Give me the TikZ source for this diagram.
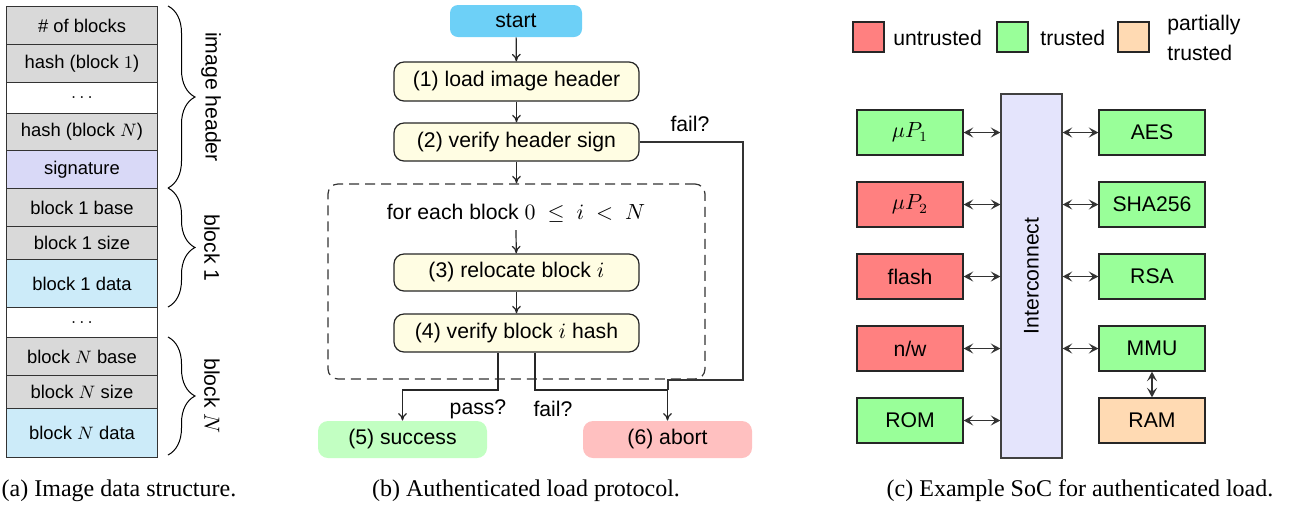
\documentclass[tikz,border=0pt]{standalone}
\usepackage[no-math]{fontspec}
\setmainfont{Liberation Serif}
\setsansfont{Liberation Sans}
\usetikzlibrary{arrows.meta,decorations.pathreplacing}
\definecolor{cgray}{HTML}{D9D9D9}
\definecolor{clav}{HTML}{D9D9F7}
\definecolor{cdata}{HTML}{CCEBF9}
\definecolor{cstart}{HTML}{6DD0F7}
\definecolor{cstep}{HTML}{FFFDE3}
\definecolor{cok}{HTML}{C2FFC2}
\definecolor{cbad}{HTML}{FFC0C0}
\definecolor{cred}{HTML}{FF8080}
\definecolor{cgreen}{HTML}{99FF99}
\definecolor{cpeach}{HTML}{FFDAB3}
\definecolor{cic}{HTML}{E4E4FC}
\begin{document}
\begin{tikzpicture}[x=0.5pt,y=-0.5pt,
  cell/.style={draw=black!80,line width=0.5pt,anchor=north west,minimum width=75.5pt,inner sep=0pt,
    font=\fontsize{9.2}{11}\selectfont\sffamily},
  bracepath/.style={decorate,decoration={brace,amplitude=13.5pt},line width=0.5pt},
  bracelabel/.style={rotate=-90,font=\fontsize{10.6}{12}\selectfont\sffamily},
  stepbox/.style={draw=black!85,fill=cstep,rounded corners=5pt,line width=0.6pt,minimum width=122.5pt,
    inner sep=0pt,font=\fontsize{10.6}{12}\selectfont\sffamily},
  endbox/.style={rounded corners=5pt,minimum width=84.5pt,minimum height=18.5pt,inner sep=0pt,
    font=\fontsize{10.6}{12}\selectfont\sffamily},
  lbl/.style={inner sep=0pt,font=\fontsize{10.6}{12}\selectfont\sffamily},
  arr/.style={-{To[length=3.8pt,width=4.4pt]},line width=0.6pt,black!85},
  ln/.style={line width=0.6pt,black!80},
  blk/.style={draw=black!85,line width=0.6pt,minimum width=53pt,minimum height=22.5pt,inner sep=0pt,
    font=\fontsize{10.6}{12}\selectfont\sffamily},
  leg/.style={draw=black!85,line width=0.6pt,minimum width=15.5pt,minimum height=15pt,inner sep=0pt},
  dbl/.style={{Stealth[length=4.8pt,width=5pt,inset=2pt]}-{Stealth[length=4.8pt,width=5pt,inset=2pt]},
    line width=0.6pt,black!80},
  captext/.style={inner sep=0pt,font=\fontsize{12}{14}\selectfont\rmfamily}
]
\useasboundingbox (0,0) rectangle (1292,516);

% ---------------- panel (a)
\node[cell,fill=cgray,minimum height=19pt]   (a1)  at (6,6)   {\# of blocks};
\node[cell,fill=cgray,minimum height=19pt]   (a2)  at (6,44)  {hash (block $1$)};
\node[cell,fill=white,minimum height=15.5pt] (a3)  at (6,82)  {$\ldots$};
\node[cell,fill=cgray,minimum height=18.5pt] (a4)  at (6,113) {hash (block $N$)};
\node[cell,fill=clav,minimum height=19pt]    (a5)  at (6,150) {signature};
\node[cell,fill=cgray,minimum height=19pt]   (a6)  at (6,188) {block 1 base};
\node[cell,fill=cgray,minimum height=16.5pt] (a7)  at (6,226) {block 1 size};
\node[cell,fill=cdata,minimum height=24pt]   (a8)  at (6,259) {block 1 data};
\node[cell,fill=white,minimum height=15pt]   (a9)  at (6,307) {$\ldots$};
\node[cell,fill=cgray,minimum height=19pt]   (a10) at (6,337) {block $N$ base};
\node[cell,fill=cgray,minimum height=16.5pt] (a11) at (6,375) {block $N$ size};
\node[cell,fill=cdata,minimum height=24.5pt] (a12) at (6,408) {block $N$ data};

\coordinate (b1t) at (168,6);   \coordinate (b1b) at (168,188);
\coordinate (b2t) at (168,188); \coordinate (b2b) at (168,307);
\coordinate (b3t) at (168,337); \coordinate (b3b) at (168,455);
\draw[bracepath] (b1t) -- (b1b);
\draw[bracepath] (b2t) -- (b2b);
\draw[bracepath] (b3t) -- (b3b);
\node[bracelabel] (l1) at (211,97)  {image header};
\node[bracelabel] (l2) at (212,248) {block 1};
\node[bracelabel] (l3) at (212,396) {block $N$};

% ---------------- panel (b)
\node[endbox,fill=cstart,minimum width=66pt,minimum height=16pt,rounded corners=4pt] (st) at (516,21) {start};
\node[stepbox,minimum height=19.5pt] (s1) at (516.5,81.5) {(1) load image header};
\node[stepbox,minimum height=19pt]   (s2) at (516.5,142)  {(2) verify header sign};
\node[draw=black!80,dashed,dash pattern=on 5pt off 3pt,line width=0.6pt,rounded corners=5pt,
      minimum width=188.5pt,minimum height=97.5pt,inner sep=0pt] (loop) at (516.5,281.5) {};
\node[lbl] (lt) at (516,213) {for each block $0~\leq~i~<~N$};
\node[stepbox,minimum height=18.5pt] (s3) at (516.5,272.5) {(3) relocate block $i$};
\node[stepbox,minimum height=19pt]   (s4) at (516.5,333)   {(4) verify block $i$ hash};
\node[endbox,fill=cok]  (s5) at (402.5,439.5) {(5) success};
\node[endbox,fill=cbad] (s6) at (667.5,439.5) {(6) abort};

\draw[arr] (st) -- (s1);
\draw[arr] (s1) -- (s2);
\draw[arr] (s2) -- (loop.north);
\coordinate (ltb) at (516,230);
\draw[arr] (ltb) -- (s3);
\draw[arr] (s3) -- (s4);

\coordinate (pa) at (498,390);
\coordinate (fb) at (535,390);
\coordinate (fr) at (743,380);
\coordinate (fj) at (668,380);
\draw[ln] (s2.east) -| (fr) -- (fj) -- (fj |- fb);
\draw[arr] (s4.south -| pa) -- (pa) -| (s5.north);
\draw[arr] (s4.south -| fb) -- (fb) -| (s6.north);
\node[lbl] (f1) at (690,124) {fail?};
\node[lbl] (p2) at (478,409) {pass?};
\node[lbl] (f2) at (553,409) {fail?};

% ---------------- panel (c)
\node[leg,fill=cred]   (g1) at (868.5,37)  {};
\node[lbl,anchor=west] (g1t) at (893,38)   {untrusted};
\node[leg,fill=cgreen] (g2) at (1012.5,37) {};
\node[lbl,anchor=west] (g2t) at (1040,38)  {trusted};
\node[leg,fill=cpeach] (g3) at (1133.5,37) {};
\node[lbl,anchor=west,align=left,font=\fontsize{10.6}{15}\selectfont\sffamily] (g3t) at (1167,38) {partially\\trusted};

\node[draw=black!75,fill=cic,line width=0.6pt,minimum width=30.5pt,minimum height=182pt,inner sep=0pt] (ic) at (1031.5,276) {};
\node[lbl,rotate=90] (ict) at (ic.center) {Interconnect};

\node[blk,fill=cgreen] (mp1) at (910,132.5) {$\mu P_1$};
\node[blk,fill=cred]   (mp2) at (910,204.5) {$\mu P_2$};
\node[blk,fill=cred]   (fl)  at (910,276.5) {flash};
\node[blk,fill=cred]   (nw)  at (910,348.5) {n/w};
\node[blk,fill=cgreen] (rom) at (910,420.5)   {ROM};
\node[blk,fill=cgreen] (aes) at (1152,132.5) {AES};
\node[blk,fill=cgreen] (sha) at (1152,204.5) {SHA256};
\node[blk,fill=cgreen] (rsa) at (1152,276.5) {RSA};
\node[blk,fill=cgreen] (mmu) at (1152,348.5) {MMU};
\node[blk,fill=cpeach] (ram) at (1152,420.5)   {RAM};

\foreach \n in {mp1,mp2,fl,nw,rom}{\draw[dbl] (\n.east) -- (\n.east -| ic.west);}
\foreach \n in {aes,sha,rsa,mmu}{\draw[dbl] (\n.west -| ic.east) -- (\n.west);}
\draw[dbl] (mmu.south) -- (ram.north);

% ---------------- captions
\node[captext] (ca) at (119,491)  {(a) Image data structure.};
\node[captext] (cb) at (526,491)  {(b) Authenticated load protocol.};
\node[captext] (cc) at (1080,491) {(c) Example SoC for authenticated load.};
\end{tikzpicture}
\end{document}
